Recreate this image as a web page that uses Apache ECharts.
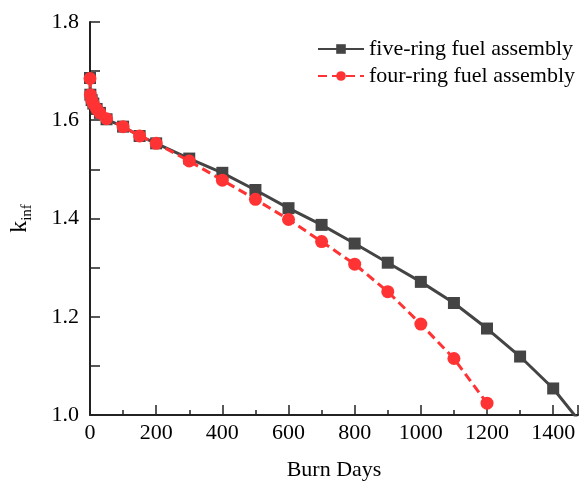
<!DOCTYPE html>
<html>
<head>
<meta charset="utf-8">
<script src="https://cdn.jsdelivr.net/npm/echarts@6/dist/echarts.min.js"></script>
<style>
  html, body { margin: 0; padding: 0; background: #fff; }
  #chart { width: 581px; height: 486px; }
</style>
</head>
<body>
<div id="chart"></div>
<script>
// Burn-up steps (days)
const fiveRingDays = [0, 1, 5, 10, 20, 30, 50, 100, 150, 200, 300, 400, 500, 600, 700, 800, 900, 1000, 1100, 1200, 1300, 1400, 1500];
const fiveRingKinf = [1.686, 1.652, 1.641, 1.634, 1.623, 1.615, 1.602, 1.587, 1.568, 1.553, 1.522, 1.493, 1.458, 1.421, 1.387, 1.349, 1.310, 1.271, 1.228, 1.176, 1.119, 1.054, 0.970];

const fourRingDays = [0, 1, 5, 10, 20, 30, 50, 100, 150, 200, 300, 400, 500, 600, 700, 800, 900, 1000, 1100, 1200];
const fourRingKinf = [1.685, 1.652, 1.641, 1.634, 1.623, 1.615, 1.603, 1.587, 1.568, 1.553, 1.517, 1.478, 1.439, 1.398, 1.353, 1.307, 1.251, 1.185, 1.115, 1.024];

const seriesNames = ['five-ring fuel assembly', 'four-ring fuel assembly'];

const FONT = '"Liberation Serif", "Times New Roman", serif';
const GREY = '#444444';
const RED = '#ff3333';

function pairs(xs, ys) {
  return xs.map((x, i) => [x, ys[i]]);
}

const chart = echarts.init(document.getElementById('chart'), null, { renderer: 'canvas' });

chart.setOption({
  animation: false,
  backgroundColor: '#ffffff',
  grid: { left: 90, right: 3, top: 22, bottom: 71, containLabel: false },
  legend: {
    orient: 'vertical',
    left: 312,
    top: 33,
    itemWidth: 46,
    itemHeight: 12,
    itemGap: 5,
    textStyle: { fontFamily: FONT, fontSize: 22, color: '#000' },
    data: seriesNames
  },
  xAxis: {
    type: 'value',
    min: 0,
    max: 1475,
    interval: 200,
    name: 'Burn Days',
    nameLocation: 'middle',
    nameGap: 44,
    nameTextStyle: { fontFamily: FONT, fontSize: 22, color: '#000' },
    axisLine: { show: true, lineStyle: { color: '#222', width: 2 } },
    axisTick: { show: true, inside: true, length: 10, lineStyle: { color: '#222', width: 1.5 } },
    minorTick: { show: true, splitNumber: 2, length: 5, lineStyle: { color: '#222', width: 1.5 } },
    axisLabel: {
      fontFamily: FONT, fontSize: 22, color: '#000', margin: 7, showMaxLabel: false,
      formatter: v => String(v)
    },
    splitLine: { show: false }
  },
  yAxis: {
    type: 'value',
    min: 1.0,
    max: 1.8,
    interval: 0.1,
    name: '{k|k}{sub|inf}',
    nameLocation: 'middle',
    nameRotate: 90,
    nameGap: 58,
    nameTextStyle: {
      fontFamily: FONT,
      color: '#000',
      rich: {
        k: { fontFamily: FONT, fontSize: 24, color: '#000', verticalAlign: 'bottom' },
        sub: { fontFamily: FONT, fontSize: 15, color: '#000', verticalAlign: 'bottom', padding: [0, 0, -3, 0] }
      }
    },
    axisLine: { show: true, lineStyle: { color: '#222', width: 2 } },
    axisTick: { show: true, inside: true, length: 10, lineStyle: { color: '#222', width: 1.5 } },
    axisLabel: {
      fontFamily: FONT, fontSize: 22, color: '#000', margin: 11,
      formatter: v => (Math.round(v * 10) % 2 === 0 ? v.toFixed(1) : '')
    },
    splitLine: { show: false }
  },
  series: [
    {
      name: seriesNames[0],
      type: 'line',
      data: pairs(fiveRingDays, fiveRingKinf),
      clip: true,
      symbol: 'rect',
      symbolSize: 12,
      showAllSymbol: true,
      lineStyle: { color: GREY, width: 3 },
      itemStyle: { color: GREY },
      z: 2
    },
    {
      name: seriesNames[1],
      type: 'line',
      data: pairs(fourRingDays, fourRingKinf),
      clip: true,
      symbol: 'circle',
      symbolSize: 13,
      showAllSymbol: true,
      lineStyle: { color: RED, width: 3, type: [9, 5] },
      itemStyle: { color: RED },
      z: 3
    }
  ]
});
</script>
</body>
</html>
